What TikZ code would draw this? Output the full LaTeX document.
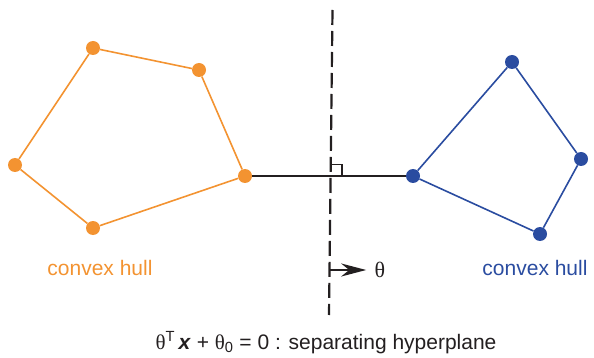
\documentclass[tikz,border=0pt]{standalone}
\usepackage{fontspec}
\setmainfont{Liberation Sans}
\setsansfont{Liberation Sans}
\newfontfamily\greekfont{Liberation Serif}
\usepackage{xcolor}
\usetikzlibrary{arrows.meta}
\definecolor{hullorange}{HTML}{F39331}
\definecolor{hullblue}{HTML}{2A4CA0}
\definecolor{ink}{HTML}{231F20}
\newcommand{\thet}{{\greekfont θ}}
\tikzset{
  hulldot/.style={
    circle, fill=#1, draw=none, inner sep=0pt, minimum size=14pt
  },
  hulldot/.default=hullorange,
  hulledge/.style={line width=1.6pt, color=#1},
  hulledge/.default=hullorange,
  hulllabel/.style={font=\fontsize{21}{23}\selectfont, text=#1},
  planeline/.style={line width=2.2pt, color=ink, dash pattern=on 15pt off 6pt},
}
\begin{document}
\begin{tikzpicture}[x=1pt, y=-1pt]
    \useasboundingbox (0,0) rectangle (594,358);
    % left hull
    \node[hulldot] (o1) at (93,48) {};
    \node[hulldot] (o2) at (199,70) {};
    \node[hulldot] (o3) at (245,176) {};
    \node[hulldot] (o4) at (93,228) {};
    \node[hulldot] (o5) at (15,165) {};
    \draw[hulledge] (o1) -- (o2) -- (o3) -- (o4) -- (o5) -- (o1);
    % right hull
    \node[hulldot=hullblue] (b1) at (512,62) {};
    \node[hulldot=hullblue] (b2) at (581,159) {};
    \node[hulldot=hullblue] (b3) at (540,234) {};
    \node[hulldot=hullblue] (b4) at (413,176) {};
    \draw[hulledge=hullblue] (b1) -- (b2) -- (b3) -- (b4) -- (b1);
    % margin segment and hyperplane
    \draw[line width=1.8pt, ink] (o3) -- (b4);
    \coordinate (ptop) at (332.5,10);
    \coordinate (pbot) at (329,315);
    \coordinate (foot) at (331,176);
    \draw[planeline] (ptop) -- (pbot);
    \draw[line width=1.5pt, ink] (foot) ++(0,-11.5) -- ++(11,0) -- ++(0,11.5);
    \coordinate (nbase) at (330,270);
    \node[font=\fontsize{22}{23}\selectfont\greekfont, ink] (theta) at (380,270) {θ};
    \draw[line width=1.8pt, ink, shorten >=5pt,
          -{Stealth[length=25pt, width=13pt, inset=8pt]}] (nbase) -- (theta.west);
    % labels
    \node[hulllabel=hullorange] (lhull) at (100,268) {convex hull};
    \node[hulllabel=hullblue] (rhull) at (535,268) {convex hull};
    \node[anchor=base, font=\fontsize{21}{23}\selectfont, ink] (eqn) at (326,349)
      {\thet\textsuperscript{T}\,\textbf{\textit{x}} + \thet\textsubscript{0} = 0 : separating hyperplane};
\end{tikzpicture}
\end{document}
